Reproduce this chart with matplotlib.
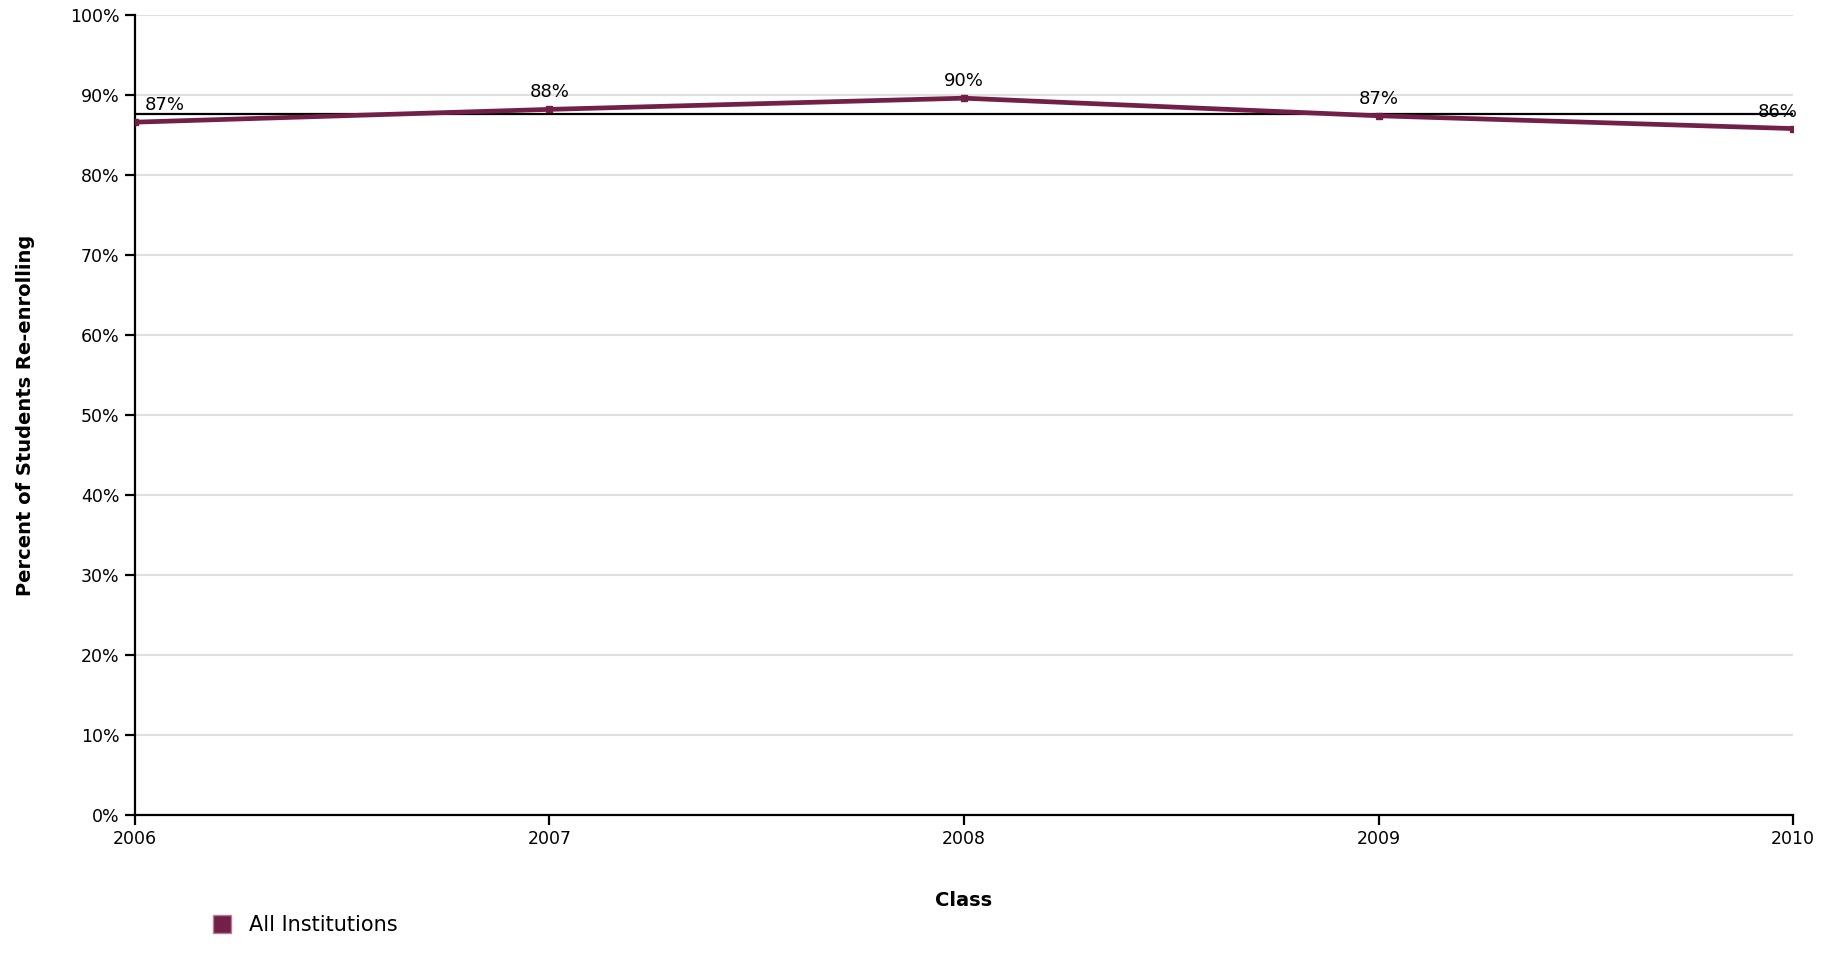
import matplotlib
matplotlib.use('Agg')
import matplotlib.pyplot as plt
from matplotlib.ticker import FuncFormatter

# Data
years = [2006, 2007, 2008, 2009, 2010]
rates = [86.6, 88.2, 89.6, 87.4, 85.8]
labels = ['87%', '88%', '90%', '87%', '86%']
average = 87.6
series_name = 'All Institutions'
line_color = '#722048'

plt.rcParams['font.family'] = 'DejaVu Sans'

fig = plt.figure(figsize=(18.39, 9.72), dpi=100)
ax = fig.add_axes([0.0734, 0.1615, 0.9016, 0.8231])

ax.plot(years, rates, color=line_color, linewidth=3.4, marker='s', markersize=5,
        solid_capstyle='butt', zorder=4, label=series_name)
ax.axhline(average, color='black', linewidth=1.6, zorder=3)

# data labels above each point, nudged in at the edges
for i, (x, y, txt) in enumerate(zip(years, rates, labels)):
    if i == 0:
        ha, dx = 'left', 10
    elif i == len(years) - 1:
        ha, dx = 'right', 5
    else:
        ha, dx = 'center', 0
    ax.annotate(txt, (x, y), xytext=(dx, 8), textcoords='offset pixels',
                ha=ha, va='bottom', fontsize=13, zorder=5)

ax.set_xlim(2006, 2010)
ax.set_ylim(0, 100)
ax.set_xticks(years)
ax.set_yticks(range(0, 101, 10))
ax.yaxis.set_major_formatter(FuncFormatter(lambda v, p: f'{v:.0f}%'))
ax.grid(axis='y', color='#e0e0e0', linewidth=1.5, zorder=0)
ax.set_axisbelow(True)

for side in ['top', 'right']:
    ax.spines[side].set_visible(False)
for side in ['left', 'bottom']:
    ax.spines[side].set_linewidth(1.6)
ax.tick_params(axis='both', length=7, width=1.6, labelsize=12.5, pad=4)

ax.set_xlabel('Class', fontsize=14, fontweight='bold', labelpad=31)
ax.set_ylabel('Percent of Students Re-enrolling', fontsize=14, fontweight='bold', labelpad=25)

handle = plt.Line2D([], [], linestyle='none', marker='s', markersize=13,
                    markerfacecolor=line_color, markeredgecolor='#b08098')
fig.legend([handle], [series_name], loc='center left', bbox_to_anchor=(0.105, 0.048),
           frameon=False, fontsize=15, handletextpad=0.3, borderaxespad=0)

fig.savefig('out.png', dpi=100)
